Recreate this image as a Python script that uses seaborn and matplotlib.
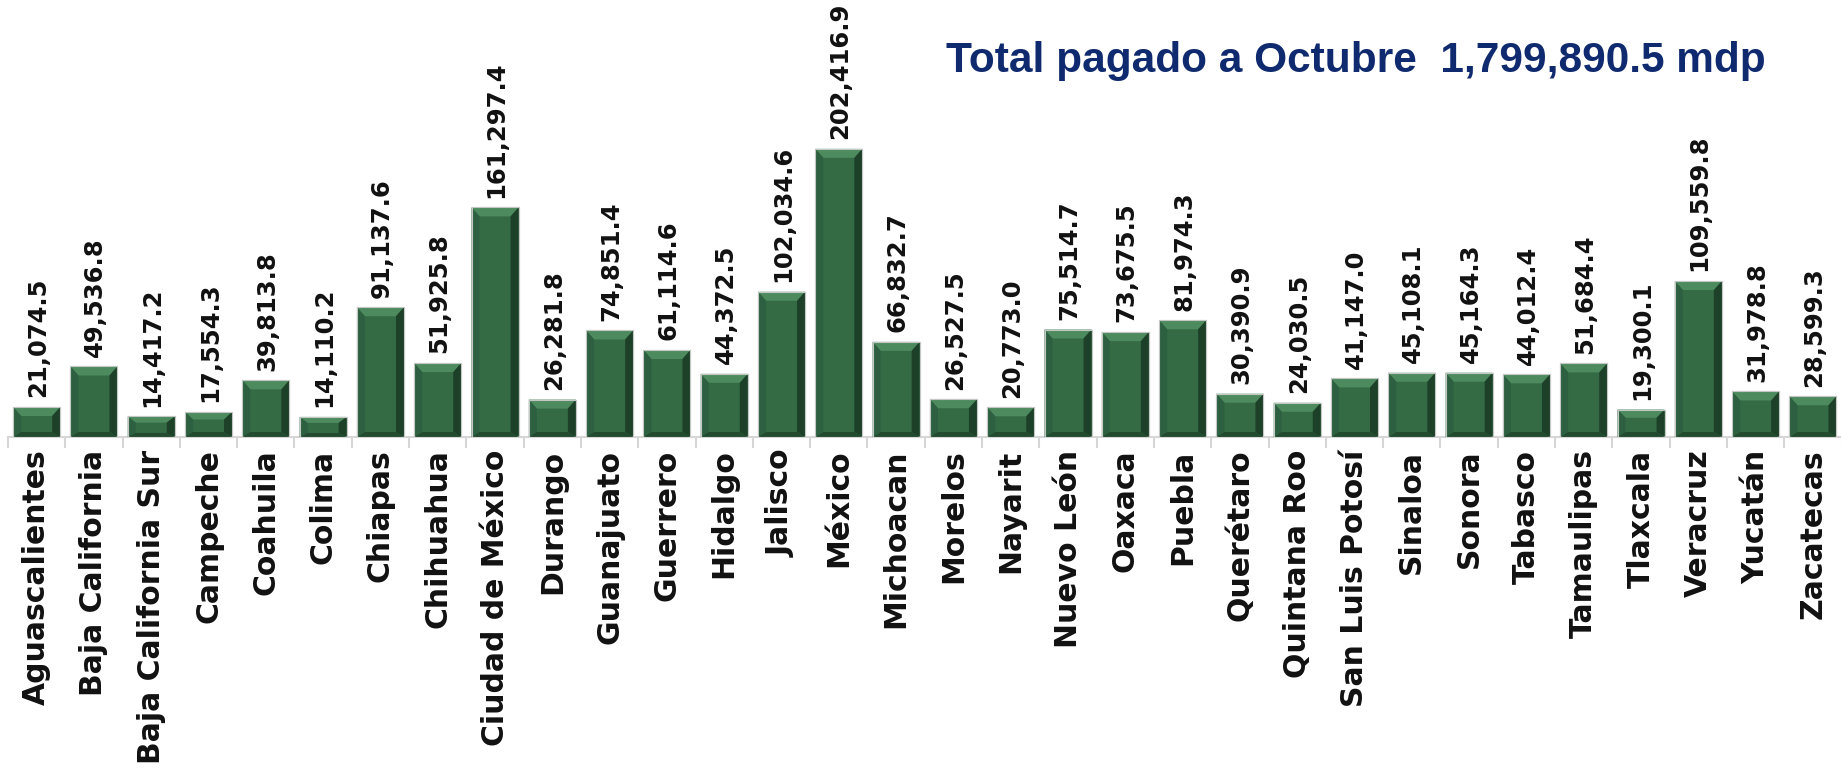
import matplotlib
matplotlib.use("Agg")
import matplotlib.pyplot as plt
from matplotlib.patches import Polygon
from matplotlib.ticker import FixedLocator
import seaborn as sns
import pandas as pd
import numpy as np

estados = ["Aguascalientes", "Baja California", "Baja California Sur", "Campeche",
           "Coahuila", "Colima", "Chiapas", "Chihuahua", "Ciudad de México",
           "Durango", "Guanajuato", "Guerrero", "Hidalgo", "Jalisco", "México",
           "Michoacan", "Morelos", "Nayarit", "Nuevo León", "Oaxaca", "Puebla",
           "Querétaro", "Quintana Roo", "San Luis Potosí", "Sinaloa", "Sonora",
           "Tabasco", "Tamaulipas", "Tlaxcala", "Veracruz", "Yucatán", "Zacatecas"]
pagado = [21074.5, 49536.8, 14417.2, 17554.3, 39813.8, 14110.2, 91137.6, 51925.8,
          161297.4, 26281.8, 74851.4, 61114.6, 44372.5, 102034.6, 202416.9,
          66832.7, 26527.5, 20773.0, 75514.7, 73675.5, 81974.3, 30390.9, 24030.5,
          41147.0, 45108.1, 45164.3, 44012.4, 51684.4, 19300.1, 109559.8,
          31978.8, 28599.3]
titulo = "Total pagado a Octubre  1,799,890.5 mdp"

sns.set_style("white")
plt.rcParams["font.family"] = ["DejaVu Sans"]

W, H, DPI = 1841, 775, 100
fig = plt.figure(figsize=(W / DPI, H / DPI), dpi=DPI)
ax_left_px, base_px, slot_px = 8, 437, 57.3
n = len(estados)
ax = fig.add_axes([ax_left_px / W, (H - base_px) / H, n * slot_px / W, base_px / H])

df = pd.DataFrame({"estado": estados, "pagado": pagado})
sns.barplot(data=df, x="estado", y="pagado", color="#346b45", saturation=1,
            width=0.82, ax=ax, edgecolor="#c4c8c4", linewidth=0.8)

ymax = 307000
ax.set_xlim(-0.5, n - 0.5)
ax.set_ylim(0, ymax)

# bevel decoration derived from each bar's geometry
px_x = slot_px
px_y = base_px / ymax
for bar in list(ax.patches):
    x0, w, h = bar.get_x(), bar.get_width(), bar.get_height()
    x1 = x0 + w
    dx = 8 / px_x
    dyt = min(9 / px_y, h * 0.3)
    dyb = min(5 / px_y, h * 0.2)
    top = Polygon([(x0, h), (x1, h), (x1 - dx, h - dyt), (x0 + dx, h - dyt)],
                  closed=True, facecolor="#4d8a5e", edgecolor="none", zorder=3)
    left = Polygon([(x0, 0), (x0, h), (x0 + dx, h - dyt), (x0 + dx, dyb)],
                   closed=True, facecolor="#2d6040", edgecolor="none", zorder=3)
    right = Polygon([(x1, 0), (x1, h), (x1 - dx, h - dyt), (x1 - dx, dyb)],
                    closed=True, facecolor="#1d4028", edgecolor="none", zorder=3)
    bottom = Polygon([(x0, 0), (x1, 0), (x1 - dx, dyb), (x0 + dx, dyb)],
                     closed=True, facecolor="#224a2f", edgecolor="none", zorder=3)
    for p in (top, left, right, bottom):
        ax.add_patch(p)
    ax.add_patch(Polygon([(x0, 0), (x0, h), (x1, h), (x1, 0)], closed=True,
                         facecolor="none", edgecolor="#c4c8c4", linewidth=0.8, zorder=4))

for i, v in enumerate(pagado):
    ax.annotate(f"{v:,.1f}", xy=(i, v), xytext=(1, 7), textcoords="offset points",
                rotation=90, ha="center", va="bottom", fontsize=17.5,
                fontweight="bold", color="#111111", zorder=5, annotation_clip=False)

for s in ("top", "right", "left"):
    ax.spines[s].set_visible(False)
ax.spines["bottom"].set_color("#d6d6d6")
ax.spines["bottom"].set_linewidth(1.5)
ax.set_yticks([])
ax.set_xlabel("")
ax.set_ylabel("")
ax.xaxis.set_minor_locator(FixedLocator(np.arange(-0.5, n, 1.0)))
ax.tick_params(axis="x", which="minor", length=8, width=1.5, color="#d6d6d6",
               direction="out", bottom=True)
ax.tick_params(axis="x", which="major", length=0, pad=9)
ax.set_xticks(range(n))
ax.set_xticklabels(estados, rotation=90, ha="center", va="top",
                   fontsize=21.5, fontweight="bold", color="#111111")

fig.text(1356 / W, 1 - 61 / H, titulo, ha="center", va="center",
         fontsize=30.5, fontweight="bold", color="#0f2a6e",
         family=["Liberation Sans Narrow", "Liberation Sans", "DejaVu Sans"])

fig.savefig("out.png", dpi=DPI)
